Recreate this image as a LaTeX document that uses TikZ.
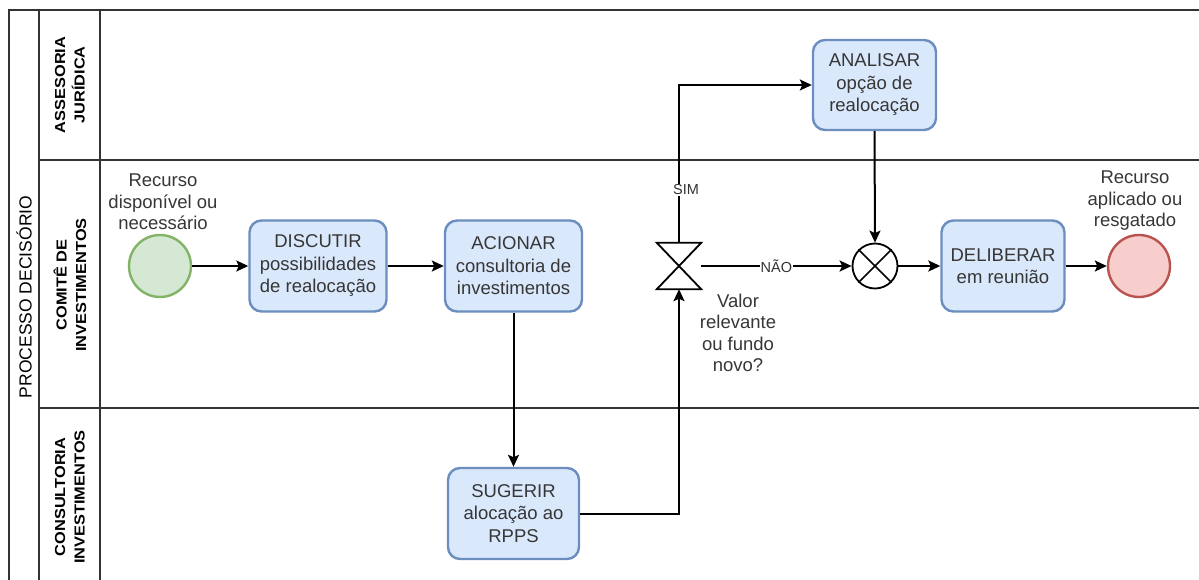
\documentclass[tikz,border=0pt]{standalone}
\usepackage{fontspec}
\setmainfont{Liberation Sans}
\newfontfamily\lanefont[FakeStretch=1.13]{Liberation Sans Bold}
\usetikzlibrary{arrows.meta}
\definecolor{taskfill}{HTML}{DAE8FC}
\definecolor{taskline}{HTML}{6C8EBF}
\definecolor{startfill}{HTML}{D5E8D4}
\definecolor{startline}{HTML}{82B366}
\definecolor{endfill}{HTML}{F8CECC}
\definecolor{endline}{HTML}{B85450}
\definecolor{txt}{HTML}{363636}
\definecolor{frame}{HTML}{333333}
\begin{document}
\begin{tikzpicture}[x=1pt,y=-1pt,
  poolline/.style={draw=frame, line width=2pt},
  task/.style={draw=taskline, fill=taskfill, rounded corners=12pt, line width=2.4pt,
    text=txt, font=\fontsize{18.5}{22.5}\selectfont, align=center, inner sep=0pt},
  evt/.style={circle, line width=2.4pt, minimum size=62pt, inner sep=0pt},
  flow/.style={draw=black, line width=2pt, -{Stealth[length=12pt,width=11pt,inset=2.5pt]}},
  lbl/.style={text=txt, font=\fontsize{18.5}{21.5}\selectfont, align=center, inner sep=0pt},
  elbl/.style={fill=white, text=frame, font=\fontsize{14.5}{16}\selectfont, inner sep=1pt},
  lanelbl/.style={rotate=90, align=center, font=\lanefont\fontsize{14.5}{19.5}\selectfont, text=black, inner sep=0pt},
]
\useasboundingbox (0,0) rectangle (1199,580);

% pool frame
\draw[poolline] (1199,10.5) -- (9,10.5) -- (9,580);
\draw[poolline] (39,10.5) -- (39,580);
\draw[poolline] (100,10.5) -- (100,580);
\draw[poolline] (39,160.5) -- (1199,160.5);
\draw[poolline] (39,408) -- (1199,408);

\node[rotate=90, font=\fontsize{17.5}{20}\selectfont, text=black, inner sep=0pt] (pool) at (24,297) {PROCESSO DECISÓRIO};
\node[lanelbl] (lane1) at (70,85) {ASSESORIA\\JURÍDICA};
\node[lanelbl] (lane2) at (70,285) {COMITÊ DE\\INVESTIMENTOS};
\node[lanelbl] (lane3) at (70,497) {CONSULTORIA\\INVESTIMENTOS};

% events
\node[evt, fill=startfill, draw=startline] (start) at (160,266) {};
\node[evt, fill=endfill, draw=endline] (end) at (1139,266) {};
\node[lbl] (startlbl) at (163,202) {Recurso\\disponível ou\\necessário};
\node[lbl] (endlbl) at (1135,201) {Recurso\\aplicado ou\\resgatado};

% tasks
\node[task, minimum width=137pt, minimum height=91pt] (dis) at (318,266) {DISCUTIR\\possibilidades\\de realocação};
\node[task, minimum width=137pt, minimum height=91pt] (aci) at (513.5,266) {ACIONAR\\consultoria de\\investimentos};
\node[task, minimum width=131pt, minimum height=91pt] (sug) at (513.5,513.5) {SUGERIR\\alocação ao\\RPPS};
\node[task, minimum width=123pt, minimum height=90pt] (ana) at (874.5,85) {ANALISAR\\opção de\\realocação};
\node[task, minimum width=123pt, minimum height=91pt] (del) at (1003,266) {DELIBERAR\\em reunião};

% gateways
\node[minimum width=44pt, minimum height=46pt, inner sep=0pt] (gw) at (679,266) {};
\draw[line width=1.8pt, line join=miter] (gw.north west) -- (gw.north east) -- (gw.south west) -- (gw.south east) -- cycle;
\node[circle, draw=black, line width=1.8pt, minimum size=45pt, inner sep=0pt] (cx) at (875,266) {};
\draw[line width=1.5pt] (cx.north east) -- (cx.south west) (cx.north west) -- (cx.south east);

\node[lbl] (gwlbl) at (738,333) {Valor\\relevante\\ou fundo\\novo?};

% flows
\draw[flow] (start) -- (dis);
\draw[flow] (dis) -- (aci);
\draw[flow] (aci) -- (sug);
\draw[flow] (sug.east) -| (gw.south);
\draw[flow] (gw.north) |- (ana.west);
\node[elbl] (sim) at (686,190) {SIM};
\draw[flow] (gw.east) -- node[elbl] (nao) {NÃO} (cx.west);
\draw[flow] (ana.south) -- (cx.north);
\draw[flow] (cx.east) -- (del.west);
\draw[flow] (del.east) -- (end.west);
\end{tikzpicture}
\end{document}
